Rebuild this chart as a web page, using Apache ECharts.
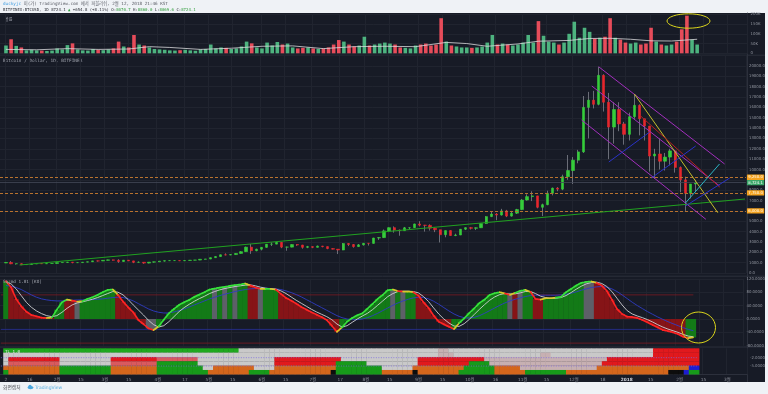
<!DOCTYPE html>
<html>
<head>
<meta charset="utf-8">
<script src="https://cdn.jsdelivr.net/npm/echarts@6.0.0/dist/echarts.min.js"></script>
<style>
html,body{margin:0;padding:0;width:768px;height:394px;overflow:hidden;background:#eff2f6;}
#dark{position:absolute;left:0;top:12.7px;width:765px;height:369.6px;background:#171b26;}
#chart{position:absolute;left:0;top:0;width:768px;height:394px;}
</style>
</head>
<body>
<div id="dark"></div>
<div id="chart"></div>
<script>
// ---------------- data (day 0 = 2017-01-01) ----------------
const dayStart = -2, dayEnd = 435;
const binFirstDay = 1, binStep = 3;   // 3-day candles

const open = [
 965,1020,890,900,810,820,870,920,890,915,
 920,1005,1020,1050,1000,1005,1050,1085,1170,1160,
 1225,1270,1230,1110,1240,1170,1030,1040,960,1050,
 1080,1150,1190,1200,1200,1180,1210,1240,1250,1330,
 1350,1480,1590,1760,1740,1780,1890,2060,2500,2150,
 2300,2480,2780,2790,2960,2500,2500,2750,2700,2480,
 2550,2480,2600,2550,2360,2300,2220,2850,2750,2550,
 2720,2870,2860,3380,3420,4070,4380,4150,4090,4370,
 4380,4740,4620,4600,4330,4180,3700,4100,3620,3670,
 4230,4380,4320,4370,4780,5450,5700,5600,6000,5500,
 5780,6130,7050,7380,7450,6350,6600,7700,8200,8100,
 9300,9900,10900,11700,16000,16700,16300,19100,16500,14100,
 15800,14400,13400,15100,16200,14900,14200,11300,11500,10800,
 11200,11800,10200,9000,7700,8600];
const close = [
 1020,890,900,810,820,870,920,890,915,920,
 1005,1020,1050,1000,1005,1050,1085,1170,1160,1225,
 1270,1230,1110,1240,1170,1030,1040,960,1050,1080,
 1150,1190,1200,1200,1180,1210,1240,1250,1330,1350,
 1480,1590,1760,1740,1780,1890,2060,2500,2150,2300,
 2480,2780,2790,2960,2500,2500,2750,2700,2480,2550,
 2480,2600,2550,2360,2300,2220,2850,2750,2550,2720,
 2870,2860,3380,3420,4070,4380,4150,4090,4370,4380,
 4740,4620,4600,4330,4180,3700,4100,3620,3670,4230,
 4380,4320,4370,4780,5450,5700,5600,6000,5500,5780,
 6130,7050,7380,7450,6350,6600,7700,8200,8100,9300,
 9900,10900,11700,16000,16700,16300,19100,16500,14100,15800,
 14400,13400,15100,16200,14900,14200,11300,11500,10800,11200,
 11800,10200,9000,7700,8600,8724.1];
const high = [
 1035,1150,910,915,830,900,930,935,920,925,
 1010,1040,1070,1065,1010,1055,1090,1180,1210,1230,
 1290,1290,1330,1250,1260,1175,1120,1060,1060,1090,
 1160,1200,1210,1210,1210,1215,1250,1260,1340,1360,
 1490,1620,1780,1900,1820,1910,2100,2550,2800,2350,
 2500,2800,2950,3000,2990,2550,2770,2790,2720,2620,
 2570,2650,2620,2560,2400,2300,2900,2880,2800,2800,
 2900,2880,3400,3480,4200,4400,4500,4200,4450,4400,
 4760,5000,4650,4700,4400,4180,4100,4120,3800,4250,
 4400,4450,4400,4800,5500,5900,5800,6200,6100,6000,
 6200,7150,7600,7900,7450,6700,7950,8250,8300,9500,
 11400,11200,11900,17100,17500,17600,19900,19200,17400,16500,
 16500,14600,15500,17300,16300,14900,14200,12000,13000,11600,
 12000,11900,10300,9300,8600,9000];
const low = [
 960,850,810,760,780,820,865,880,885,910,
 915,1000,1000,940,980,1000,1040,1080,1100,1155,
 1220,1200,980,1100,1150,950,1020,890,930,1000,
 1070,1110,1170,1180,1150,1170,1200,1230,1245,1310,
 1340,1470,1580,1700,1720,1760,1880,2050,1850,2100,
 2180,2450,2600,2780,2400,2150,2480,2620,2350,2400,
 2400,2470,2480,2300,2280,1830,2200,2600,2450,2520,
 2650,2650,2850,3200,3400,3950,3900,3600,4080,4200,
 4350,4500,4000,4100,3950,2950,3450,3600,3560,3660,
 4150,4200,4150,4350,4750,5400,5100,5550,5400,5450,
 5700,6100,7000,6950,6250,5500,6550,7500,7900,8000,
 9000,8600,10600,11600,13000,15900,16200,15600,11000,12500,
 13700,12400,12800,14900,13300,12800,9800,9100,10000,9900,
 10400,9700,7800,6000,7200,7800];
// daily volume in thousands of BTC (representative per 3-day bin)
const volumeK = [
 40,72,38,30,15,18,15,14,12,14,
 25,20,42,51,20,15,14,22,18,16,
 20,25,60,35,30,94,45,40,30,22,
 20,18,15,14,16,18,15,13,20,22,
 45,25,30,28,22,25,35,60,51,30,
 25,55,40,58,45,50,30,25,28,30,
 25,22,25,30,45,68,60,45,35,40,
 85,40,45,50,55,50,45,30,28,25,
 40,45,50,40,45,180,60,40,35,30,
 30,28,30,35,55,94,45,50,45,40,
 45,55,94,55,165,90,60,55,45,55,
 100,162,80,131,110,75,80,85,180,80,
 70,55,50,55,45,50,131,60,45,40,
 45,60,123,193,70,45];
// volume moving average read at some bins: [bin, K]
const volumeMA = [[0,20],[6,18],[12,24],[18,20],[24,22],[28,34],[32,30],[38,20],[44,26],[50,36],
 [56,38],[62,24],[68,34],[74,36],[80,34],[86,56],[90,50],[94,36],[100,48],[104,62],[110,66],
 [114,76],[118,77],[122,72],[126,64],[130,63],[135,72]];
const volumeTicks = [0, 50, 100, 150, 200];

// oscillator pane
const osc = [
 113,95,60,38,22,12,8,4,3,4,
 28,50,58,55,52,53,60,65,72,80,
 87,88,72,52,35,20,-3,-15,-28,-33,
 -22,-2,17,30,42,50,57,66,73,80,
 88,91,94,96,99,101,103,106,100,94,
 90,90,90,88,75,63,55,46,36,28,
 20,13,6,-3,-20,-38,-25,-8,3,11,
 17,31,45,60,72,86,88,83,82,82,
 80,70,50,33,10,-8,-16,-23,-30,-12,
 2,18,32,48,58,72,77,80,76,72,
 78,84,87,81,60,58,62,62,64,66,
 80,90,100,108,111,112,108,100,84,58,
 30,15,7,6,3,-3,-10,-18,-25,-33,
 -36,-40,-45,-53,-57,-55];
const oscSignal = [
 110,105,90,70,50,35,24,16,10,7,
 10,20,32,42,48,51,55,59,64,70,
 76,82,80,72,58,42,27,12,-4,-17,
 -24,-20,-8,7,22,34,44,53,61,68,
 76,82,87,91,94,97,99,101,102,99,
 95,92,90,89,84,76,66,56,47,38,
 29,21,14,7,-2,-15,-24,-20,-10,0,
 9,17,28,41,54,67,76,82,83,83,
 82,78,67,52,33,15,0,-12,-21,-22,
 -14,-1,14,29,43,56,66,73,76,75,
 75,78,82,82,76,68,64,62,62,64,
 70,79,89,98,105,109,110,106,97,82,
 62,42,25,15,9,4,-2,-9,-17,-24,
 -30,-35,-40,-46,-51,-53];
const oscSlow = [
 100,98,94,88,80,72,65,60,57,55,
 54,54,55,56,57,57,57,58,59,60,
 62,64,65,64,60,54,46,38,30,24,
 20,18,18,21,25,30,36,42,48,54,
 60,65,70,74,78,82,85,88,90,91,
 92,92,91,90,88,84,79,73,66,58,
 50,42,34,26,18,10,4,0,-2,-2,
 0,4,10,17,25,33,41,48,54,59,
 63,65,64,60,53,44,34,24,15,8,
 4,3,5,10,17,25,33,41,48,54,
 59,63,67,70,71,71,71,71,71,72,
 74,77,81,86,90,94,96,97,95,90,
 82,72,61,50,40,31,22,14,6,-1,
 -8,-14,-20,-26,-31,-35];
const histColorsRLE = "G1R9G2R2W1G7R6W2G10G1W1G1W1G1W1G2R2W1G3R12G10W1G1W1G2R7G11W1R1W1G2R2G7G1W2R18G2";
const oscRedLevels = [72, -72];
const oscBlueLevels = [-31];

// ribbon pane rows (top to bottom), run-length coded per 3-day bin
const ribbonRows = [
 "G46W39w2W40R9",
 "W85w3W17w2W20R9",
 "W1R10W10R9p8W15R13W15R13w24R18",
 "W1p10W10p9g8W15R12g6W10R10g4w22R19",
 "O11g10O9g9W2O8W4O12g9W6O10g6O5w15O18B2",
 "g1O10g10O9g10O8g4O12K1g9O6K1O8g7O6g8O20K3B1g2"];
const ribbonLevels = [-2, -5];

// price levels and drawn lines: [day, price]
const priceLevels = [9250, 7750, 6000];
const lastPrice = 8724.1;
const lineGreen = [[9, 773], [435, 7150]];
const linePurpleTop = [[349, 19932], [423, 10531]];
const linePurpleMid = [[345, 18068], [420, 8406]];
const linePurpleLow = [[339, 14783], [412, 5188]];
const lineYellow = [[370, 17295], [419, 5826]];
const lineDarkRed = [[373, 15266], [420, 8309]];
const lineBlue1 = [[355, 10725], [379, 13623]];
const lineBlue2 = [[380, 9179], [406, 12271]];
const lineBlue3 = [[400, 6473], [426, 9179]];
const lineCyan = [[400, 6763], [420, 10531]];

const timeLabels = [[1,'2'],[15,'16'],[31,'2월'],[45,'15'],[59,'3월'],[73,'15'],[90,'4월'],[106,'17'],
 [120,'5월'],[134,'15'],[151,'6월'],[165,'15'],[181,'7월'],[197,'17'],[212,'8월'],[226,'15'],
 [243,'9월'],[257,'15'],[273,'10월'],[288,'16'],[304,'11월'],[318,'15'],[334,'12월'],[351,'18'],
 [365,'2018'],[379,'15'],[396,'2월'],[410,'15'],[424,'3월']];

// ---------------- build ----------------
const FONT = '"DejaVu Sans", "Noto Sans CJK KR", sans-serif';
const MONO = '"DejaVu Sans Mono", "Noto Sans CJK KR", monospace';
const cats = [];
for (let d = dayStart; d <= dayEnd; d++) cats.push('d' + d);
const binIdx = k => binFirstDay + binStep * k - dayStart;
const dayIdx = d => d - dayStart;
const bins = open.map((_, k) => k);
const lastIdx = binIdx(bins.length - 1);
function rle(s) { const out = []; s.replace(/([A-Za-z])(\d+)/g, (m, c, n) => { for (let i = 0; i < +n; i++) out.push(c); return m; }); return out; }
const labelMap = {};
timeLabels.forEach(([d, t]) => { labelMap['d' + d] = t; });
const isLabel = (i, v) => labelMap[v] !== undefined;

const GRID_LINE = '#20242f';
const AX_TXT = '#8e929c';
const UP = '#35cd3b', DOWN = '#e6262d';
const VUP = '#4db37f', VDOWN = '#e64c5a';

function xAxisFor(g, show) {
  return {
    type: 'category', gridIndex: g, data: cats, boundaryGap: true,
    axisLine: { show: show, lineStyle: { color: '#2c303c' } },
    axisTick: { show: false },
    axisLabel: {
      show: show, interval: isLabel, color: AX_TXT, fontSize: 4.3, margin: 3.2, fontFamily: FONT,
      formatter: v => (labelMap[v] === '2018' ? '{b|2018}' : labelMap[v]),
      rich: { b: { fontWeight: 'bold', color: '#d1d4dc', fontSize: 4.3, fontFamily: FONT } }
    },
    splitLine: { show: true, interval: isLabel, lineStyle: { color: GRID_LINE, width: 1 } }
  };
}
function yAxisFor(g, min, max, interval, fmt, extraLabel, extra) {
  return Object.assign({
    type: 'value', gridIndex: g, position: 'right', min, max, interval,
    axisLine: { show: false }, axisTick: { show: false },
    axisLabel: Object.assign({ color: AX_TXT, fontSize: 3.9, margin: 3, fontFamily: FONT, formatter: fmt }, extraLabel || {}),
    splitLine: { show: true, lineStyle: { color: GRID_LINE, width: 1 } }
  }, extra || {});
}

const volData = bins.map(k => [binIdx(k), volumeK[k], close[k] >= open[k] ? 1 : 0]);
const histCodes = rle(histColorsRLE);
const histPalette = { G: '#137a17', R: '#861417', W: '#5d6068' };
const histKeys = ['G', 'R', 'W'];
const histData = bins.map(k => [binIdx(k), osc[k], histKeys.indexOf(histCodes[k])]);
const segData = [];
for (let k = 1; k < osc.length; k++) {
  const dir = Math.sign(osc[k] - osc[k - 1]);
  const prevDir = k > 1 ? Math.sign(osc[k - 1] - osc[k - 2]) : dir;
  const code = dir !== prevDir ? 2 : (dir >= 0 ? 0 : 1);
  segData.push([binIdx(k), osc[k], binIdx(k - 1), osc[k - 1], code]);
}
const segPalette = ['#37e23c', '#ff2424', '#d8c92a'];
const ribbonPalette = { G: '#1fa81f', g: '#179a1a', W: '#c9c9c9', w: '#c7b0b2', R: '#e1191d', p: '#d95a5e', O: '#d4661c', K: '#0d0d0d', B: '#1d1dd2' };
const ribKeys = Object.keys(ribbonPalette);
const ribData = [];
ribbonRows.forEach((s, r) => { rle(s).forEach((c, k) => ribData.push([binIdx(k), r, ribKeys.indexOf(c)])); });

const fmtPrice = v => v.toLocaleString('en-US', { minimumFractionDigits: 1, maximumFractionDigits: 1 });
const toXY = arr => arr.map(([d, p]) => [dayIdx(d), p]);
function drawn(pts, color, w) {
  return { type: 'line', xAxisIndex: 1, yAxisIndex: 1, data: toXY(pts), symbol: 'none', silent: true,
    lineStyle: { color, width: w || 1 }, z: 5, animation: false };
}
function level(xi, yi, v, color, type, first, last) {
  return { type: 'line', xAxisIndex: xi, yAxisIndex: yi, data: [[first, v], [last, v]], symbol: 'none', silent: true,
    lineStyle: { color, width: 0.8, type: type || 'solid' }, z: 1, animation: false };
}
function rectItem(widthFactor, pad, colorOf) {
  return function (params, api) {
    const x = api.value(0), v = api.value(1);
    const top = api.coord([x, v]), base = api.coord([x, 0]);
    const w = api.size([1, 0])[0] * binStep * widthFactor + pad;
    return { type: 'rect', shape: { x: top[0] - w / 2, y: Math.min(top[1], base[1]), width: w, height: Math.abs(base[1] - top[1]) },
      style: { fill: colorOf(api.value(2)) } };
  };
}

const option = {
  animation: false,
  backgroundColor: 'transparent',
  grid: [
    { left: 0, right: 20.5, top: 14.3, height: 39 },
    { left: 0, right: 20.5, top: 55.65, height: 217.35 },
    { left: 0, right: 20.5, top: 278.8, height: 67 },
    { left: 0, right: 20.5, top: 348.3, height: 26 }
  ],
  xAxis: [xAxisFor(0, false), xAxisFor(1, false), xAxisFor(2, false), xAxisFor(3, true)],
  yAxis: [
    yAxisFor(0, volumeTicks[0], volumeTicks[volumeTicks.length - 1], 50, v => (v === 0 ? '0' : v + 'K')),
    yAxisFor(1, 0, 21000, 1000, v => v.toFixed(1), { showMaxLabel: false }),
    yAxisFor(2, -80, 120, 40, v => v.toFixed(4)),
    { type: 'value', gridIndex: 3, min: 0, max: ribbonRows.length, show: false },
    yAxisFor(3, -8, 1.39, 3, v => (ribbonLevels.indexOf(v) >= 0 ? v.toFixed(4) : ''), null, { splitLine: { show: false } })
  ],
  series: [
    { type: 'custom', xAxisIndex: 0, yAxisIndex: 0, data: volData, encode: { x: 0, y: 1 }, silent: true,
      renderItem: rectItem(0.7, 0, c => (c ? VUP : VDOWN)) },
    { type: 'line', xAxisIndex: 0, yAxisIndex: 0, data: volumeMA.map(([k, v]) => [binIdx(k), v]), symbol: 'none',
      lineStyle: { color: '#d9d9dc', width: 0.8 }, silent: true, z: 3 },
    { type: 'candlestick', xAxisIndex: 1, yAxisIndex: 1, barWidth: 1, silent: true,
      data: bins.map(k => [binIdx(k), open[k], close[k], low[k], high[k]]), encode: { x: 0, y: [1, 2, 3, 4] },
      itemStyle: { color: '#80838d', color0: '#80838d', borderColor: '#80838d', borderColor0: '#80838d', borderWidth: 0.8 } },
    { type: 'candlestick', xAxisIndex: 1, yAxisIndex: 1, barWidth: 2.8, silent: true,
      data: bins.map(k => [binIdx(k), open[k], close[k], Math.min(open[k], close[k]), Math.max(open[k], close[k])]), encode: { x: 0, y: [1, 2, 3, 4] },
      itemStyle: { color: UP, color0: DOWN, borderColor: UP, borderColor0: DOWN, borderWidth: 0.6 },
      markLine: {
        symbol: 'none', silent: true, animation: false,
        label: { show: true, position: 'end', distance: 1, fontSize: 3.8, fontFamily: FONT, color: '#fff', padding: [0.9, 1.4, 0.6, 1.4], borderRadius: 0.5 },
        data: priceLevels.map(v => ({ yAxis: v, lineStyle: { color: '#b8722e', type: [3, 2], width: 1 },
          label: { formatter: fmtPrice(v), backgroundColor: '#f5a31f' } }))
          .concat([{ yAxis: lastPrice, lineStyle: { color: '#434857', type: 'solid', width: 0.8 },
            label: { formatter: fmtPrice(lastPrice), backgroundColor: '#3ca66a' } }])
      } },
    drawn(lineGreen, '#21a121', 1.1),
    drawn(linePurpleTop, '#a22fbd'),
    drawn(linePurpleMid, '#a22fbd'),
    drawn(linePurpleLow, '#a22fbd'),
    drawn(lineYellow, '#c4bf2c'),
    drawn(lineDarkRed, '#b3201f'),
    drawn(lineBlue1, '#2a33c8'),
    drawn(lineBlue2, '#2a33c8'),
    drawn(lineBlue3, '#2a33c8'),
    drawn(lineCyan, '#2bb6c6'),
    { type: 'custom', xAxisIndex: 2, yAxisIndex: 2, data: histData, encode: { x: 0, y: 1 }, silent: true,
      renderItem: rectItem(1, 0.4, c => histPalette[histKeys[c]]) },
    ...oscRedLevels.map(v => level(2, 2, v, '#7c1b22', 'solid', 0, lastIdx)),
    ...oscBlueLevels.map(v => level(2, 2, v, '#27309a', 'solid', 0, lastIdx)),
    { type: 'line', xAxisIndex: 2, yAxisIndex: 2, data: bins.map(k => [binIdx(k), oscSlow[k]]), symbol: 'none',
      lineStyle: { color: '#2f3cc4', width: 0.9 }, silent: true, z: 3 },
    { type: 'line', xAxisIndex: 2, yAxisIndex: 2, data: bins.map(k => [binIdx(k), oscSignal[k]]), symbol: 'none',
      lineStyle: { color: '#cfcfd3', width: 0.9 }, silent: true, z: 4 },
    { type: 'custom', xAxisIndex: 2, yAxisIndex: 2, data: segData, encode: { x: [0, 2], y: [1, 3] }, silent: true, z: 5,
      renderItem: function (params, api) {
        const p2 = api.coord([api.value(0), api.value(1)]);
        const p1 = api.coord([api.value(2), api.value(3)]);
        return { type: 'line', shape: { x1: p1[0], y1: p1[1], x2: p2[0], y2: p2[1] },
          style: { stroke: segPalette[api.value(4)], lineWidth: 1.7, lineCap: 'round', lineDash: [1.2, 0.6] } };
      } },
    { type: 'custom', xAxisIndex: 3, yAxisIndex: 3, data: ribData, encode: { x: 0, y: 1 }, silent: true,
      renderItem: function (params, api) {
        const x = api.value(0), r = api.value(1), n = ribbonRows.length;
        const a = api.coord([x, n - r]), b = api.coord([x, n - r - 1]);
        const w = api.size([1, 0])[0] * binStep + 0.4;
        return { type: 'rect', shape: { x: a[0] - w / 2, y: a[1], width: w, height: b[1] - a[1] + 0.2 },
          style: { fill: ribbonPalette[ribKeys[api.value(2)]] } };
      } },
    ...ribbonLevels.map(v => Object.assign(level(3, 4, v, '#7a6be0', [1, 1.5], 0, lastIdx), { z: 6 }))
  ],
  graphic: [
    { type: 'text', x: 3, y: 4.2, silent: true, style: {
      text: '{d|duckyjc} 이(가) TradingView.com 에서 퍼블리쉬, 2월 12, 2018 21:46 KST',
      font: '4.3px ' + MONO, fill: '#5a5d66', verticalAlign: 'middle',
      rich: { d: { fill: '#3d9be0', font: '4.3px ' + MONO } } } },
    { type: 'text', x: 3, y: 10, silent: true, style: {
      text: 'BITFINEX:BTCUSD, 1D 8724.1 {g|▲} +654.8 (+8.11%) O:{g|8070.7} H:{g|8860.0} L:{g|8069.6} C:{g|8724.1}',
      font: '4px ' + MONO, fill: '#2d2f36', verticalAlign: 'middle',
      rich: { g: { fill: '#2f9e3a', font: '4px ' + MONO } } } },
    { type: 'text', x: 5, y: 19, silent: true, style: { text: '볼륨', font: '4px "Noto Sans CJK KR", sans-serif', fill: '#9ea2ad', verticalAlign: 'middle' } },
    { type: 'text', x: 3, y: 61, silent: true, style: { text: 'Bitcoin / Dollar, 1D, BITFINEX', font: '4.4px ' + MONO, fill: '#a3a7b1', verticalAlign: 'middle' } },
    { type: 'text', x: 3, y: 282, silent: true, z: 50, style: { text: 'Sqzmd 1.01 [KO]', font: '4.3px ' + MONO, fill: '#a3a7b1', verticalAlign: 'middle' } },
    { type: 'text', x: 5, y: 351.5, silent: true, z: 50, style: { text: 'TL 1.0', font: '4.2px ' + MONO, fill: '#e8e8e8', verticalAlign: 'middle' } },
    { type: 'line', silent: true, shape: { x1: 0, y1: 55.2, x2: 765, y2: 55.2 }, style: { stroke: '#2c303c', lineWidth: 1 } },
    { type: 'line', silent: true, shape: { x1: 0, y1: 276.2, x2: 765, y2: 276.2 }, style: { stroke: '#2c303c', lineWidth: 1 } },
    { type: 'line', silent: true, shape: { x1: 0, y1: 347, x2: 765, y2: 347 }, style: { stroke: '#2c303c', lineWidth: 1 } },
    { type: 'line', silent: true, shape: { x1: 747.5, y1: 12.7, x2: 747.5, y2: 382 }, style: { stroke: '#2c303c', lineWidth: 1 } },
    { type: 'ellipse', silent: true, z: 60, shape: { cx: 688.5, cy: 21, rx: 21.5, ry: 7.2 }, style: { fill: 'none', stroke: '#dcd61c', lineWidth: 1 } },
    { type: 'ellipse', silent: true, z: 60, shape: { cx: 698.5, cy: 327.5, rx: 17, ry: 15.5 }, style: { fill: 'none', stroke: '#dcd61c', lineWidth: 1 } },
    { type: 'text', x: 3, y: 387.5, silent: true, style: { text: '화면캡처', font: '4.8px "Noto Sans CJK KR", sans-serif', fill: '#4a4c52', verticalAlign: 'middle' } },
    { type: 'ellipse', silent: true, shape: { cx: 30.5, cy: 387.6, rx: 3, ry: 1.6 }, style: { fill: '#4aa6de' } },
    { type: 'circle', silent: true, shape: { cx: 30, cy: 386.3, r: 1.6 }, style: { fill: '#4aa6de' } },
    { type: 'text', x: 35, y: 387.5, silent: true, style: { text: 'TradingView', font: '4.5px ' + FONT, fill: '#5bb0e2', verticalAlign: 'middle' } }
  ]
};

const chart = echarts.init(document.getElementById('chart'), null, { renderer: 'canvas', width: 768, height: 394 });
chart.setOption(option);
</script>
</body>
</html>
